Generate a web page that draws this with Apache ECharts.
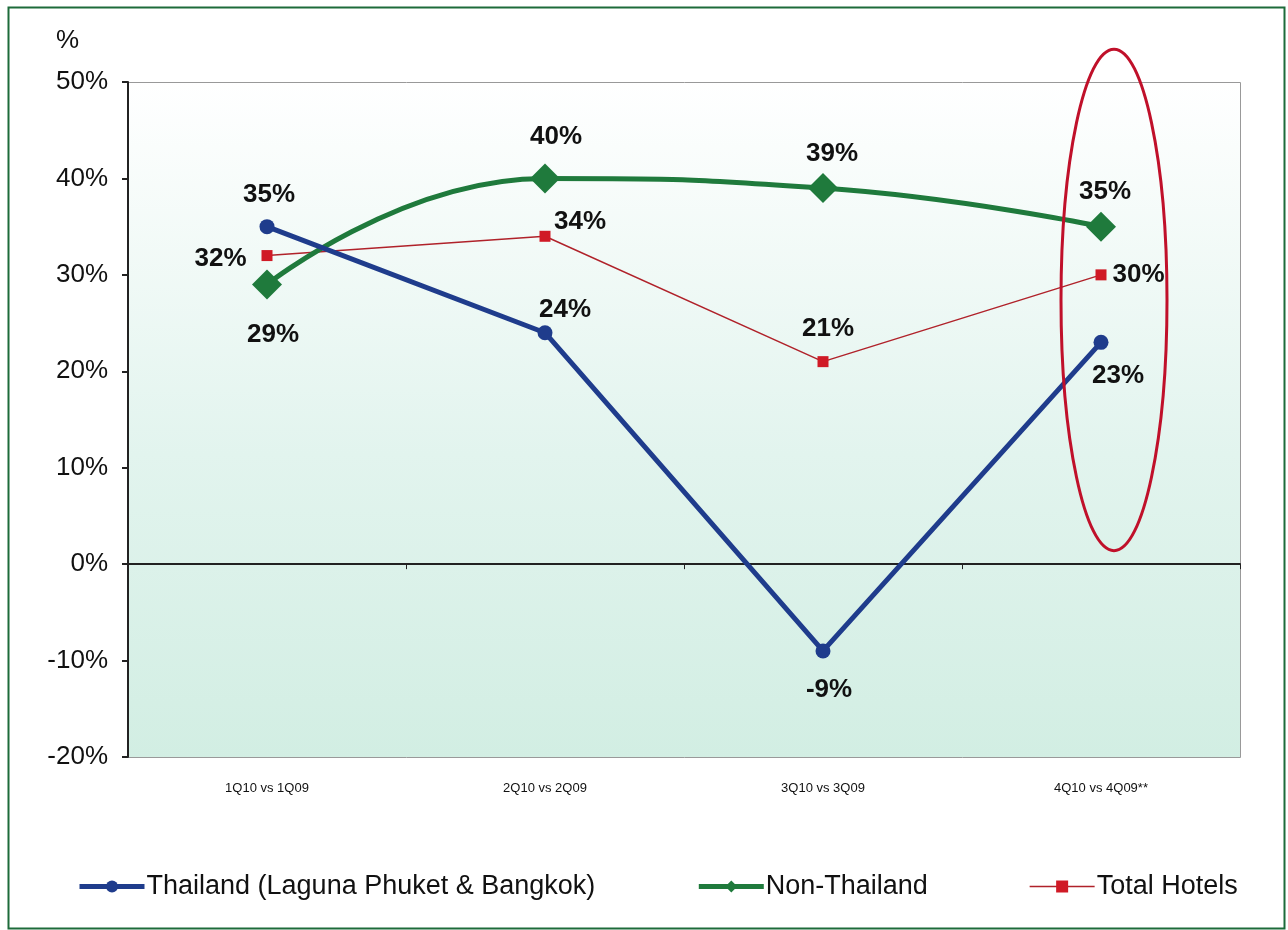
<!DOCTYPE html>
<html><head><meta charset="utf-8">
<script src="https://cdn.jsdelivr.net/npm/echarts@6/dist/echarts.min.js"></script>
<style>html,body{margin:0;padding:0;background:#fff}#c{width:1288px;height:930px}</style>
</head><body><div id="c"></div>
<script>
const categories = ['1Q10 vs 1Q09', '2Q10 vs 2Q09', '3Q10 vs 3Q09', '4Q10 vs 4Q09**'];
const thailand = [35, 24, -9, 23];
const nonThailand = [29, 40, 39, 35];
const totalHotels = [32, 34, 21, 30];
const seriesNames = ['Thailand (Laguna Phuket & Bangkok)', 'Non-Thailand', 'Total Hotels'];

const FONT = 'Liberation Sans, Arial, sans-serif';
const chart = echarts.init(document.getElementById('c'));
function lab(pos, off) {
  return {show: true, fontFamily: FONT, fontWeight: 'bold', fontSize: 26, color: '#111',
    position: pos, offset: off || [0, 0], formatter: p => p.value + '%'};
}
const thLabels = [lab('top', [2, -6]), lab('top', [20, 3]), lab('bottom', [6, 13]), lab('bottom', [17, 8])];
const ntLabels = [lab('bottom', [6, 17]), lab('top', [11, -9]), lab('top', [9, -1]), lab('top', [4, -2])];
const thlLabels = [lab('left', [-10, 3]), lab('top', [35, 9]), lab('top', [5, -9]), lab('right', [1, 0])];

chart.setOption({
  animation: false,
  grid: {left: 128, right: 48, top: 82, bottom: 173, containLabel: false},
  xAxis: [
    {type: 'category', data: categories, boundaryGap: true,
      axisLine: {onZero: true, lineStyle: {color: '#222', width: 2}},
      axisTick: {show: true, length: 5, lineStyle: {color: '#222'}},
      axisLabel: {show: false}},
    {type: 'category', data: categories, position: 'bottom', axisLine: {show: false}, axisTick: {show: false},
      axisLabel: {show: true, margin: 25, fontFamily: FONT, fontSize: 13, color: '#111'}}
  ],
  yAxis: {
    type: 'value', min: -20, max: 50, interval: 10,
    axisLine: {show: true, lineStyle: {color: '#222', width: 2}},
    axisTick: {show: true, length: 6, lineStyle: {color: '#222', width: 2}},
    axisLabel: {fontFamily: FONT, fontSize: 26, color: '#111', margin: 20, formatter: v => v + '%'},
    splitLine: {show: false}
  },
  legend: {
    top: 868, left: 72, itemGap: 101, itemWidth: 65, itemHeight: 15,
    textStyle: {fontFamily: FONT, fontSize: 27, color: '#111', padding: [0, 0, 0, -3]},
    lineStyle: {width: 5},
    data: [
      {name: seriesNames[0]},
      {name: seriesNames[1]},
      {name: seriesNames[2], lineStyle: {width: 1.5}}
    ]
  },
  graphic: [
    {type: 'rect', left: 128, top: 82, z: -10, silent: true,
      shape: {width: 1112, height: 675},
      style: {fill: new echarts.graphic.LinearGradient(0, 0, 0, 1, [{offset: 0, color: '#ffffff'}, {offset: 0.55, color: '#e2f4ee'}, {offset: 1, color: '#d2eee3'}]), stroke: '#999', lineWidth: 1}},
    {type: 'rect', left: 6, top: 5, silent: true, shape: {width: 1276, height: 921}, style: {fill: 'none', stroke: '#1d6b3a', lineWidth: 2}},
    {type: 'text', left: 56, top: 28, style: {text: '%', fontFamily: FONT, fontSize: 26, fill: '#111'}}
  ],
  series: [
    {name: seriesNames[0], type: 'line', z: 4,
      data: thailand.map((v, i) => ({value: v, label: thLabels[i]})),
      symbol: 'circle', symbolSize: 15, lineStyle: {color: '#1f3c8c', width: 5},
      itemStyle: {color: '#1f3c8c'}, emphasis: {disabled: true}},
    {name: seriesNames[1], type: 'line', smooth: 0.5, z: 3,
      data: nonThailand.map((v, i) => ({value: v, label: ntLabels[i]})),
      symbol: 'diamond', symbolSize: 30, lineStyle: {color: '#1f7a3c', width: 5},
      itemStyle: {color: '#1f7a3c'}, emphasis: {disabled: true}},
    {name: seriesNames[2], type: 'line', z: 2,
      data: totalHotels.map((v, i) => ({value: v, label: thlLabels[i]})),
      symbol: 'rect', symbolSize: 11, lineStyle: {color: '#b0222a', width: 1.5},
      itemStyle: {color: '#d01a26'}, emphasis: {disabled: true}}
  ]
});

// highlight ellipse around the last category
const ex = chart.convertToPixel({xAxisIndex: 0}, 3) + 13;
const yTop = chart.convertToPixel({yAxisIndex: 0}, 53.4);
const yBot = chart.convertToPixel({yAxisIndex: 0}, 1.4);
chart.setOption({
  graphic: [{}, {}, {},
    {type: 'ellipse', silent: true, z: 100,
      shape: {cx: ex, cy: (yTop + yBot) / 2, rx: 53, ry: (yBot - yTop) / 2},
      style: {fill: 'none', stroke: '#c0102a', lineWidth: 3}}]
});
</script></body></html>
